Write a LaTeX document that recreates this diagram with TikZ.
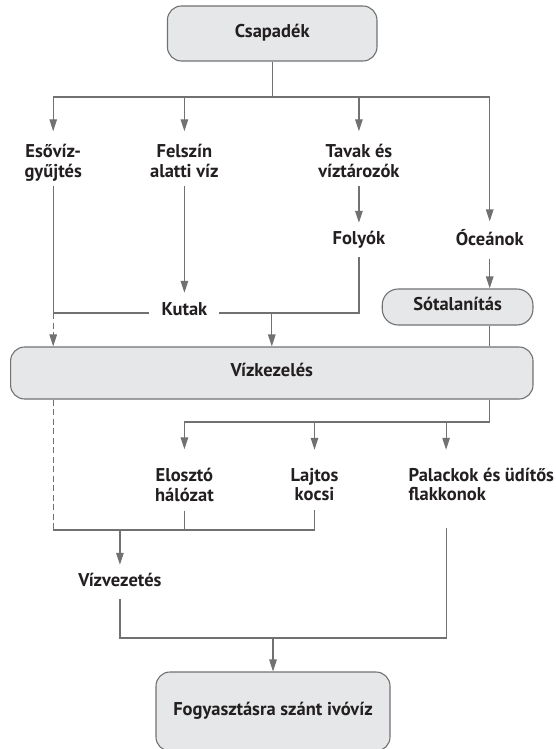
\documentclass[tikz,border=0pt]{standalone}
\usepackage{fontspec}
\setmainfont{PT Sans}
\usetikzlibrary{arrows.meta}
\definecolor{ln}{HTML}{707173}
\definecolor{bx}{HTML}{E6E7E8}
\definecolor{tx}{HTML}{231F20}
\begin{document}
\begin{tikzpicture}[x=1pt,y=-1pt,
 font=\fontsize{18.5}{19}\selectfont\bfseries,
 lbl/.style={inner xsep=0pt, inner ysep=0pt, text=tx, align=center},
 box/.style={draw=ln, fill=bx, line width=1.1pt, rounded corners=14pt, text=tx, inner sep=0pt},
 conn/.style={draw=ln, line width=1.2pt},
 arr/.style={conn, -{Triangle[length=12pt,width=7.5pt]}},
 dsh/.style={conn, line width=1pt, dash pattern=on 6pt off 3.5pt}]
\useasboundingbox (0,0) rectangle (556,749);
% nodes
\node[box, minimum width=209.5pt, minimum height=55pt] (csap) at (272.2,33.5) {Csapadék\strut};
\node[lbl] (eso) at (53.2,163.2) {Esővíz-\strut\\gyűjtés\strut};
\node[lbl] (fel) at (184.4,163.2) {Felszín\strut\\alatti víz\strut};
\node[lbl] (tav) at (358.9,163.2) {Tavak és\strut\\víztározók\strut};
\node[lbl] (foly) at (358.9,240.2) {Folyók\strut};
\node[lbl] (oce) at (489.7,240.2) {Óceánok\strut};
\node[lbl, inner xsep=12pt] (kut) at (184.4,311.9) {Kutak\strut};
\node[box, rounded corners=16pt, minimum width=150.7pt, minimum height=36pt] (sot) at (457.6,307) {Sótalanítás\strut};
\node[box, minimum width=522.4pt, minimum height=52pt] (viz) at (271.8,373) {Vízkezelés\strut};
\node[lbl] (elo) at (184.4,487.4) {Elosztó\strut\\hálózat\strut};
\node[lbl] (lajt) at (314.5,487.4) {Lajtos\strut\\kocsi\strut};
\node[lbl, align=left, anchor=west] (pal) at (408.5,487.4) {Palackok és üdítős\strut\\flakkonok\strut};
\node[lbl] (vv) at (119.9,582.9) {Vízvezetés\strut};
\node[box, minimum width=234pt, minimum height=79pt] (fogy) at (273,711.5) {Fogyasztásra szánt ivóvíz\strut};
% bus levels
\coordinate (b1) at (0,97);
\coordinate (b2) at (0,313);
\coordinate (b3) at (0,422);
\coordinate (b4) at (0,530);
\coordinate (b5) at (0,638);
\coordinate (px) at (446.1,0);
% connectors
\draw[conn] (csap.south) -- (csap.south |- b1);
\draw[conn] (eso |- b1) -- (oce |- b1);
\draw[arr, shorten >=12.2pt] (eso |- b1) -- (eso.north);
\draw[arr, shorten >=12.2pt] (fel |- b1) -- (fel.north);
\draw[arr, shorten >=12.2pt] (tav |- b1) -- (tav.north);
\draw[arr, shorten >=7.7pt] (oce |- b1) -- (oce.north);
\draw[arr, shorten <=2.8pt, shorten >=7.7pt] (tav.south) -- (foly.north);
\draw[arr, shorten <=7.3pt] (oce.south) -- (oce.south |- sot.north);
\draw[arr, shorten <=2.8pt, shorten >=9.4pt] (fel.south) -- (kut.north);
\draw[conn, shorten <=2.8pt] (eso.south) -- (eso.south |- b2) -- (kut.west |- b2);
\draw[conn, shorten <=7.3pt] (foly.south) -- (foly.south |- b2) -- (kut.east |- b2);
\draw[arr] (viz.north |- b2) -- (viz.north);
\draw[dsh, -{Triangle[length=12pt,width=7.5pt]}] (eso |- b2) -- (eso |- viz.north);
\draw[conn] (oce |- sot.south) -- (oce |- viz.north);
\draw[conn] (oce |- viz.south) -- (oce |- b3) -- (elo |- b3);
\draw[arr, shorten >=18.4pt] (elo |- b3) -- (elo.north);
\draw[arr, shorten >=18.4pt] (lajt |- b3) -- (lajt.north);
\draw[arr, shorten >=18.4pt] (px |- b3) -- (px |- pal.north);
\draw[conn, shorten <=3.6pt] (elo.south) -- (elo |- b4);
\draw[conn, shorten <=3.6pt] (lajt.south) -- (lajt |- b4) -- (eso |- b4);
\draw[dsh] (eso |- viz.south) -- (eso |- b4);
\draw[arr, shorten >=8.4pt] (vv |- b4) -- (vv.north);
\draw[conn, shorten <=21.6pt, shorten >=6.6pt] (px |- pal.south) -- (px |- b5) -- (vv |- b5) -- (vv.south);
\draw[arr] (fogy.north |- b5) -- (fogy.north);
\end{tikzpicture}
\end{document}
